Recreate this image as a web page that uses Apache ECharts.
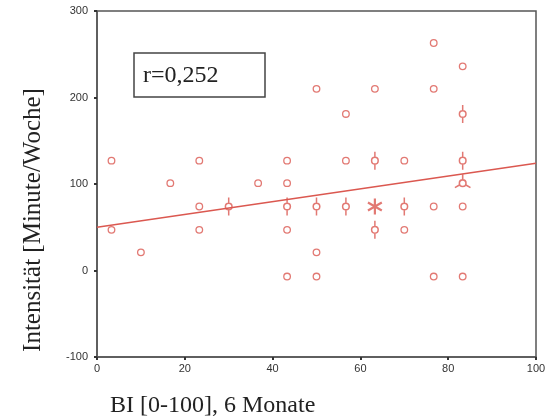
<!DOCTYPE html>
<html><head><meta charset="utf-8">
<script src="https://cdn.jsdelivr.net/npm/echarts@6/dist/echarts.min.js"></script>
<style>html,body{margin:0;padding:0;background:#fff}#c{width:549px;height:420px}</style>
</head><body><div id="c"></div>
<script>
// ---- data ----
const xTicks = [0, 20, 40, 60, 80, 100];
const yTicks = [-100, 0, 100, 200, 300];
// single observations (open circles)
const circles = [
  [3.3,127],[3.3,47],[10,21],[16.7,101],[23.3,127],[23.3,74],[23.3,47],
  [36.7,101],[43.3,127],[43.3,101],[43.3,47],[43.3,-7],
  [50,210],[50,21],[50,-7],[56.7,181],[56.7,127],[63.3,210],
  [70,127],[70,47],[76.7,263],[76.7,210],[76.7,74],[76.7,-7],
  [83.3,236],[83.3,74],[83.3,-7]
];
// sunflowers with 2 petals (2 observations)
const sunflower2 = [
  [30,74],[43.3,74],[50,74],[56.7,74],[70,74],[63.3,127],[63.3,47],[83.3,181],[83.3,127]
];
// sunflower with 3 petals
const sunflower3 = [[83.3,101]];
// sunflower with many petals
const sunflowerMany = [[63.3,74]];
// fitted regression line end points
const fitLine = [[0,50],[100,124]];
const rText = 'r=0,252';
const xTitle = 'BI [0-100], 6 Monate';
const yTitle = 'Intensität [Minute/Woche]';

const RED = '#db5850';
const box = 'M-9,-9M9,9';
const ring = 'M3.3,0A3.3,3.3,0,1,1,-3.3,0A3.3,3.3,0,1,1,3.3,0Z';
const p1 = 'path://' + box + ring;
const p2 = 'path://' + box + 'M0,-9L0,-3.3M0,3.3L0,9' + ring;
const p3 = 'path://' + box + 'M0,-9L0,-3.3M-2.86,1.65L-7.79,4.5M2.86,1.65L7.79,4.5' + ring;
const pMany = 'path://' + box + 'M0,-8L0,8M6.93,-4L-6.93,4M-6.93,-4L6.93,4';

const chart = echarts.init(document.getElementById('c'), null, {renderer: 'canvas'});
const axisCommon = {
  axisLine: {show: true, onZero: false, lineStyle: {color: '#555', width: 1.5}},
  axisTick: {show: true, length: 3, lineStyle: {color: '#333', width: 2}},
  splitLine: {show: false},
  axisLabel: {color: '#333', fontSize: 11, fontFamily: 'Liberation Sans'}
};
const symStyle = (w) => ({color: 'rgba(255,255,255,0)', borderColor: RED, borderWidth: w});
chart.setOption({
  animation: false,
  backgroundColor: '#fff',
  grid: {left: 97, right: 13, top: 11, bottom: 63, show: true, borderColor: '#555', borderWidth: 1.5},
  xAxis: Object.assign({}, axisCommon, {
    type: 'value', min: xTicks[0], max: xTicks[xTicks.length - 1], interval: xTicks[1] - xTicks[0],
    axisLabel: Object.assign({}, axisCommon.axisLabel, {margin: 6})
  }),
  yAxis: Object.assign({}, axisCommon, {
    type: 'value', min: yTicks[0], max: yTicks[yTicks.length - 1], interval: yTicks[1] - yTicks[0],
    axisLabel: Object.assign({}, axisCommon.axisLabel, {margin: 9})
  }),
  series: [
    {type: 'line', data: fitLine, symbol: 'none', z: 1,
     lineStyle: {color: RED, width: 1.5}},
    {type: 'scatter', data: circles, symbol: p1, symbolSize: 18, z: 3, itemStyle: symStyle(1.3)},
    {type: 'scatter', data: sunflower2, symbol: p2, symbolSize: 18, z: 3, itemStyle: symStyle(1.5)},
    {type: 'scatter', data: sunflower3, symbol: p3, symbolSize: 18, z: 3, itemStyle: symStyle(1.6)},
    {type: 'scatter', data: sunflowerMany, symbol: pMany, symbolSize: 18, z: 3, itemStyle: symStyle(2.2)}
  ],
  graphic: [
    {type: 'rect', shape: {x: 134, y: 53, width: 131, height: 44}, z: 10,
     style: {fill: '#fff', stroke: '#444', lineWidth: 1.5}},
    {type: 'text', x: 143, y: 76, z: 11,
     style: {text: rText, fontSize: 24, fontFamily: 'Liberation Serif', fill: '#222', align: 'left', verticalAlign: 'middle'}},
    {type: 'text', x: 110, y: 406, z: 11,
     style: {text: xTitle, fontSize: 24, fontFamily: 'Liberation Serif', fill: '#222', align: 'left', verticalAlign: 'middle'}},
    {type: 'text', x: 33, y: 220, rotation: Math.PI / 2, z: 11,
     style: {text: yTitle, fontSize: 25, fontFamily: 'Liberation Serif', fill: '#222', align: 'center', verticalAlign: 'middle'}}
  ]
});
</script>
</body></html>
